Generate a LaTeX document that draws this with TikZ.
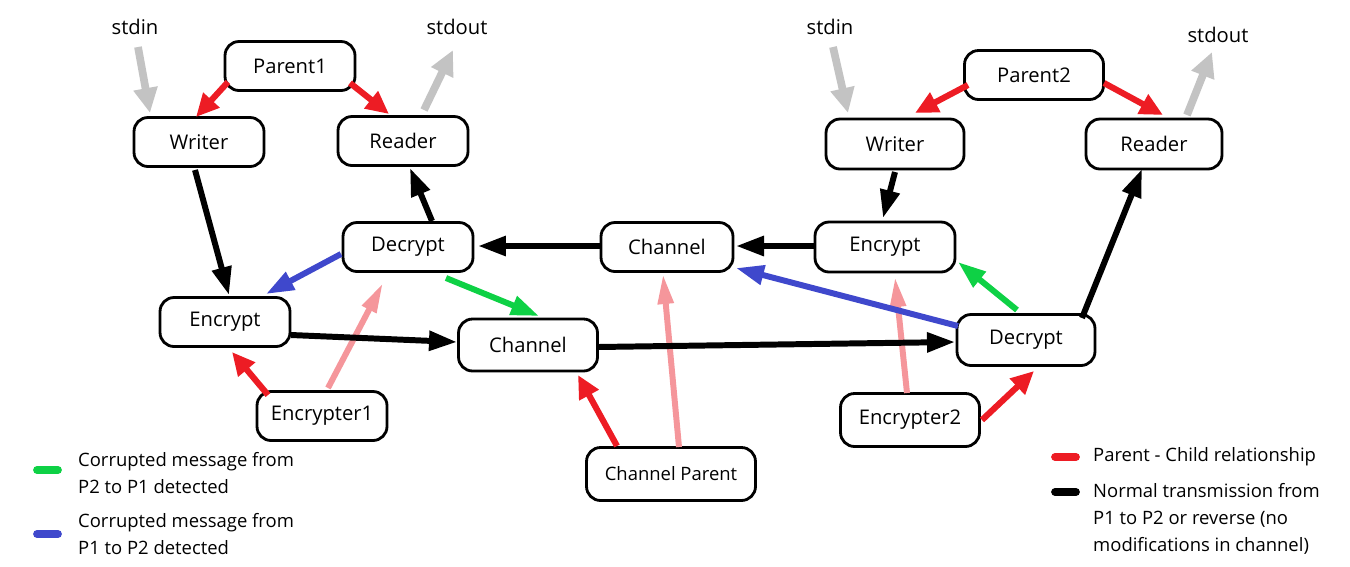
\documentclass[tikz,border=0pt]{standalone}
\usepackage{fontspec}
\setmainfont{Open Sans}
\usetikzlibrary{arrows.meta,calc}
\definecolor{pcred}{RGB}{237,28,36}
\definecolor{pcpink}{RGB}{245,150,155}
\definecolor{pcblue}{RGB}{63,72,204}
\definecolor{pcgreen}{RGB}{14,209,69}
\definecolor{pcgrey}{RGB}{195,195,195}

\begin{document}
\begin{tikzpicture}[
  x=0.02cm, y=-0.02cm,
  box/.style={rectangle, draw, line width=1.6pt, rounded corners=0.28cm, align=center,
    minimum width=2.6cm, minimum height=0.98cm, inner sep=1pt, font=\fontsize{11.5}{13}\selectfont},
  io/.style={font=\fontsize{11.5}{13}\selectfont},
  legtext/.style={anchor=west, align=left, font=\fontsize{10.5}{15.4}\selectfont},
  link/.style={line width=3.5pt, -{Triangle[length=0.46cm, width=0.42cm]}},
  msg/.style={line width=3.4pt, -{Triangle[length=0.56cm, width=0.38cm]}},
  parentof/.style={link, pcred},
  spawn/.style={line width=3.4pt, pcpink, -{Triangle[length=0.6cm, width=0.3cm]}},
  flow/.style={msg, black},
  badtwo/.style={msg, pcblue},
  badone/.style={msg, pcgreen},
  stdio/.style={line width=4.4pt, pcgrey, -{Triangle[length=0.5cm, width=0.46cm]}},
  swatch/.style={line width=4.4pt, line cap=round}
]
\useasboundingbox (0,0) rectangle (1350,566);

% left side (P1)
\node[box] (parentA) at (290,66) {Parent1};
\node[box] (writerA) at (199,142) {Writer};
\node[box] (readerA) at (403,141) {Reader};
\node[box] (decryptA) at (408,247) {Decrypt};
\node[box] (encryptA) at (225,322) {Encrypt};
\node[box] (encrypterA) at (322,416) {Encrypter1};
\node[io] (stdinA) at (135,27) {stdin};
\node[io] (stdoutA) at (457,27) {stdout};

% channel
\node[box, minimum width=2.78cm, minimum height=1.04cm] (chanLow) at (528,345) {Channel};
\node[box, minimum width=2.64cm] (chanUp) at (667,247) {Channel};
\node[box, minimum width=3.38cm, minimum height=1.06cm, font=\fontsize{10.5}{12}\selectfont] (chanParent) at (671,474) {Channel Parent};

% right side (P2)
\node[box, minimum width=2.78cm] (parentB) at (1034,75) {Parent2};
\node[box, minimum width=2.76cm, minimum height=1.0cm] (writerB) at (895,144) {Writer};
\node[box, minimum width=2.72cm, minimum height=1.0cm] (readerB) at (1154,144) {Reader};
\node[box, minimum width=2.8cm, minimum height=1.0cm] (encryptB) at (885,247) {Encrypt};
\node[box, minimum width=2.76cm, minimum height=1.02cm] (decryptB) at (1026,340) {Decrypt};
\node[box, minimum width=2.78cm, minimum height=1.06cm] (encrypterB) at (910,420) {Encrypter2};
\node[io] (stdinB) at (830,27) {stdin};
\node[io] (stdoutB) at (1218,35) {stdout};

% stdin / stdout
\draw[stdio] ($(stdinA)+(3,20)$) -- ($(writerA)+(-49,-29)$);
\draw[stdio] ($(readerA)+(21,-31)$) -- ($(stdoutA)+(-4,23)$);
\draw[stdio] ($(stdinB)+(3,20)$) -- ($(writerB)+(-47,-31)$);
\draw[stdio] ($(readerB)+(33,-29)$) -- ($(stdoutB)+(-6,17)$);

% parent - child
\draw[parentof] ($(parentA)+(-62,16)$) -- ($(writerA)+(-3,-25)$);
\draw[parentof] ($(parentA)+(60,17)$) -- ($(readerA)+(-14,-27)$);
\draw[parentof] ($(parentB)+(-66,10)$) -- ($(writerB)+(20,-31)$);
\draw[parentof] ($(parentB)+(70,8)$) -- ($(readerB)+(9,-29)$);
\draw[parentof] ($(encrypterA)+(-54,-21)$) -- ($(encryptA)+(7,30)$);
\draw[parentof] ($(chanParent)+(-54,-28)$) -- ($(chanLow)+(50,30)$);
\draw[parentof] ($(encrypterB)+(72,0)$) -- ($(decryptB)+(8,31)$);

\draw[spawn] ($(encrypterA)+(6,-28)$) -- ($(decryptA)+(-25,36)$);
\draw[spawn] ($(chanParent)+(8,-27)$) -- ($(chanUp)+(-4,27)$);
\draw[spawn] ($(encrypterB)+(-3,-27)$) -- ($(encryptB)+(10,30)$);

% normal transmission
\draw[flow] ($(writerA)+(-4,28)$) -- ($(encryptA)+(4,-27)$);
\draw[flow] ($(encryptA)+(66,13)$) -- ($(chanLow)+(-71,-3)$);
\draw[flow] ($(chanLow)+(70,2)$) -- ($(decryptB)+(-71,2)$);
\draw[flow] ($(decryptB)+(56,-22)$) -- ($(readerB)+(-12,25)$);
\draw[flow] ($(writerB)+(0,28)$) -- ($(encryptB)+(-2,-29)$);
\draw[flow] ($(encryptB)+(-70,-1)$) -- ($(chanUp)+(69,-1)$);
\draw[flow] ($(chanUp)+(-66,-1)$) -- ($(decryptA)+(70,-1)$);
\draw[flow] ($(decryptA)+(24,-26)$) -- ($(readerA)+(7,27)$);

% corrupted messages
\draw[badtwo] ($(decryptA)+(-67,7)$) -- ($(encryptA)+(41,-28)$);
\draw[badtwo] ($(decryptB)+(-68,-14)$) -- ($(chanUp)+(69,21)$);
\draw[badone] ($(decryptA)+(38,31)$) -- ($(chanLow)+(11,-29)$);
\draw[badone] ($(decryptB)+(-9,-30)$) -- ($(encryptB)+(73,15)$);

% legend
\node[legtext] (legGreen) at (72,473) {Corrupted message from\\P2 to P1 detected};
\node[legtext] (legBlue) at (72,534) {Corrupted message from\\P1 to P2 detected};
\node[legtext] (legRed) at (1087,457) {Parent - Child relationship};
\node[legtext] (legBlack) at (1087,519) {Normal transmission from\\P1 to P2 or reverse (no\\modifications in channel)};
\draw[swatch, pcgreen] ($(legGreen.west)+(-35,-3)$) -- ++(21,0);
\draw[swatch, pcblue] ($(legBlue.west)+(-35,0)$) -- ++(21,0);
\draw[swatch, pcred] ($(legRed.west)+(-32,0)$) -- ++(21,0);
\draw[swatch, black] ($(legBlack.west)+(-32,-27)$) -- ++(21,0);
\end{tikzpicture}
\end{document}
